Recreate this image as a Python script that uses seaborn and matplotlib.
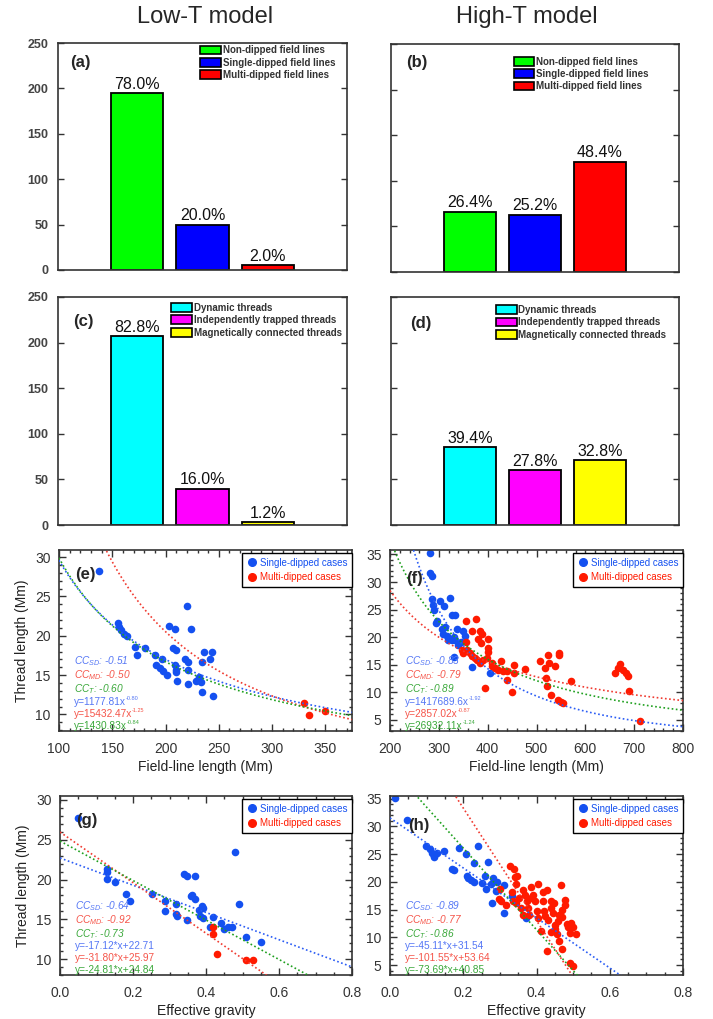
import numpy as np
import seaborn as sns
import matplotlib.pyplot as plt
from matplotlib.patches import Patch
from matplotlib.lines import Line2D
from matplotlib.ticker import MultipleLocator

sns.set_style("ticks")
plt.rcParams['font.family'] = ['Liberation Sans', 'DejaVu Sans']
plt.rcParams['mathtext.fontset'] = 'custom'
plt.rcParams['mathtext.rm'] = 'Liberation Sans'
plt.rcParams['mathtext.it'] = 'Liberation Sans:italic'
plt.rcParams['mathtext.bf'] = 'Liberation Sans:bold'

# ---- bar data (panels a-d) ----
field_labels = ["Non-dipped field lines", "Single-dipped field lines", "Multi-dipped field lines"]
thread_labels = ["Dynamic threads", "Independently trapped threads", "Magnetically connected threads"]
field_colors = ["#00ff00", "#0000ff", "#ff0000"]
thread_colors = ["#00ffff", "#ff00ff", "#ffff00"]

field_low = [195, 50, 5]
field_high = [66, 63, 121]
thread_low = [207, 40, 3]
thread_high = [85, 60, 71]
field_low_pct = ["78.0%", "20.0%", "2.0%"]
field_high_pct = ["26.4%", "25.2%", "48.4%"]
thread_low_pct = ["82.8%", "16.0%", "1.2%"]
thread_high_pct = ["39.4%", "27.8%", "32.8%"]

# ---- scatter data: low-T ----
e_sd_x = [138, 155, 156, 158, 161, 164, 171, 173, 181, 190, 191, 197, 195, 198, 201, 203.5, 209, 207,
          210, 209, 210, 210.6, 209.5, 218, 221, 220.4, 221, 221.4, 224, 229, 231, 233.6, 234.5, 236,
          234.5, 241.4, 243.3, 244.5]
e_sd_y = [28.2, 21.6, 21.1, 20.7, 20.2, 20.0, 18.6, 17.6, 18.5, 17.6, 16.3, 17.1, 15.9, 15.5, 15.0,
          21.3, 20.9, 18.4, 18.2, 16.3, 15.6, 14.2, 15.4, 17.0, 16.7, 23.8, 15.6, 13.9, 20.8, 14.3,
          14.7, 14.1, 16.7, 17.9, 12.9, 17.0, 17.9, 12.3]
e_md_x = [330, 335, 350]
e_md_y = [11.5, 9.9, 10.5]

g_sd_x = [0.05, 0.13, 0.13, 0.13, 0.151, 0.181, 0.192, 0.251, 0.289, 0.289, 0.319, 0.319, 0.321,
          0.349, 0.339, 0.349, 0.37, 0.359, 0.363, 0.369, 0.38, 0.389, 0.392, 0.383, 0.392, 0.411,
          0.42, 0.44, 0.449, 0.461, 0.47, 0.48, 0.49, 0.51, 0.55]
g_sd_y = [27.7, 21.3, 20.9, 20.1, 19.7, 18.2, 17.3, 18.2, 17.3, 16.0, 16.9, 15.7, 15.4, 14.9, 20.7,
          20.5, 20.4, 17.9, 18.0, 17.6, 16.2, 16.7, 16.4, 15.4, 15.2, 14.0, 15.3, 14.5, 13.8, 14.0,
          14.0, 23.4, 16.9, 12.8, 12.2]
g_md_x = [0.42, 0.42, 0.431, 0.51, 0.529]
g_md_y = [14.0, 13.2, 10.6, 9.9, 9.9]

# ---- scatter data: high-T ----
f_sd_x = [281, 282.5, 285, 286.6, 289, 290.7, 294, 296, 303, 311, 322.7, 327.5, 333, 307, 309, 312.5,
          316, 319, 326, 331.6, 334, 336.4, 339.8, 331.6, 345, 350, 353.4, 367, 404.5]
f_sd_y = [35.2, 31.7, 31.1, 26.9, 25.9, 25.0, 22.6, 22.9, 26.5, 25.7, 27.1, 24.1, 24.1, 21.4, 20.5,
          21.8, 20.2, 19.5, 19.5, 20.0, 19.5, 21.4, 18.5, 16.4, 19.2, 21.1, 20.2, 14.6, 13.6]
f_md_x = [355, 376, 355.5, 357, 363.6, 367, 374, 379, 384, 391, 367, 384, 387.5, 380.7, 386, 400, 401,
          401, 397.7, 408, 409, 415, 421.6, 427, 432, 438.6, 438.6, 394, 449, 454, 454, 476, 507, 524,
          525, 537.5, 545.6, 547, 517, 518.5, 520.5, 529, 544, 551, 555, 571.6, 660, 667, 671.7, 677,
          684, 687.5, 689, 711, 347, 350]
f_md_y = [22.9, 23.3, 19.2, 17.7, 17.1, 16.6, 16.2, 15.8, 15.3, 15.9, 21.1, 21.2, 20.5, 19.6, 19.0,
          19.6, 18.0, 17.4, 16.2, 15.3, 14.7, 14.4, 14.1, 15.7, 13.8, 13.8, 12.3, 10.8, 10.0, 15.0,
          13.5, 14.2, 15.6, 16.8, 15.4, 14.7, 17.1, 16.7, 14.4, 12.6, 11.1, 9.5, 8.6, 8.2, 8.0, 12.1,
          13.6, 14.4, 15.2, 14.1, 13.5, 12.9, 10.2, 4.9, 17.7, 17.1]

h_sd_x = [0.015, 0.047, 0.098, 0.109, 0.114, 0.121, 0.127, 0.148, 0.119, 0.17, 0.175, 0.188, 0.208,
          0.21, 0.212, 0.22, 0.228, 0.239, 0.229, 0.25, 0.26, 0.268, 0.275, 0.262, 0.28, 0.291, 0.29,
          0.279, 0.31, 0.31, 0.332, 0.371]
h_sd_y = [35.2, 31.1, 26.5, 25.9, 25.3, 24.7, 25.3, 25.5, 24.5, 22.4, 22.1, 26.1, 25.0, 21.1, 20.7,
          20.3, 23.5, 26.5, 20.0, 19.8, 21.1, 23.6, 19.7, 18.7, 20.7, 20.0, 18.4, 16.2, 14.4, 19.4,
          17.4, 13.5]
h_md_x = [0.299, 0.297, 0.303, 0.318, 0.328, 0.339, 0.341, 0.348, 0.343, 0.332, 0.336, 0.345, 0.351,
          0.359, 0.364, 0.368, 0.373, 0.377, 0.386, 0.391, 0.395, 0.4, 0.38, 0.364, 0.405, 0.411,
          0.418, 0.418, 0.421, 0.424, 0.432, 0.43, 0.439, 0.44, 0.445, 0.447, 0.45, 0.43, 0.44, 0.45,
          0.455, 0.459, 0.461, 0.468, 0.47, 0.47, 0.477, 0.479, 0.482, 0.486, 0.491, 0.495, 0.5,
          0.509, 0.491, 0.5, 0.47, 0.461, 0.403, 0.384]
h_md_y = [18.7, 16.9, 16.5, 15.9, 22.8, 22.4, 20.9, 21.1, 19.7, 18.2, 16.5, 16.2, 17.1, 15.3, 18.5,
          17.6, 16.5, 15.3, 19.1, 17.6, 16.5, 14.7, 14.1, 14.1, 13.5, 11.2, 18.2, 16.5, 14.7, 13.8,
          13.2, 18.5, 16.5, 15.3, 14.4, 16.2, 12.2, 7.5, 10.9, 11.5, 10.6, 12.9, 14.1, 19.4, 13.6,
          7.9, 16.8, 15.9, 12.4, 11.8, 10.8, 12.6, 11.9, 10.6, 5.3, 4.9, 15.0, 9.4, 19.7, 17.1]

# ---- fits as printed in the panels (SD, MD, total) ----
e_coef = [1177.81, 15432.47, 1430.83]
e_expo = [-0.80, -1.25, -0.84]
f_coef = [1417689.6, 2857.02, 26932.11]
f_expo = [-1.92, -0.87, -1.24]
g_slope = [-17.12, -31.80, -24.81]
g_icpt = [22.71, 25.97, 24.84]
h_slope = [-45.11, -101.55, -73.69]
h_icpt = [31.54, 53.64, 40.85]
e_cc = ["-0.51", "-0.50", "-0.60"]
f_cc = ["-0.83", "-0.79", "-0.89"]
g_cc = ["-0.64", "-0.92", "-0.73"]
h_cc = ["-0.89", "-0.77", "-0.86"]

SD_COL = "#1450f0"
MD_COL = "#ff1a00"
FIT_COLS = ["#2a5cf5", "#f03a30", "#1fa01f"]
TXT_COLS = ["#5577f5", "#f5554a", "#3aa83a"]
DARK = "#333333"

W, H = 713, 1019
fig = plt.figure(figsize=(W / 100, H / 100), dpi=100)


def rect(l, r, t, b):
    return [l / W, 1 - b / H, (r - l) / W, (b - t) / H]


def bar_panel(box, vals, pcts, labels, colors, tag, leg_xy, tag_xy, left):
    ax = fig.add_axes(rect(*box))
    sns.barplot(x=labels, y=vals, hue=labels, palette=colors, saturation=1, width=0.8,
                edgecolor="black", linewidth=1.3, errorbar=None, legend=False, ax=ax)
    for cont, p in zip(ax.containers, pcts):
        ax.bar_label(cont, labels=[p], padding=1, fontsize=11.5, color="#111111")
    ax.set_xlim(-1.22, 3.22)
    ax.set_ylim(0, 250)
    ax.yaxis.set_major_locator(MultipleLocator(50))
    ax.set_xlabel("")
    ax.set_ylabel("")
    ax.set_xticks([])
    ax.tick_params(axis="y", direction="in", left=True, right=True, length=4, width=1,
                   color=DARK, labelleft=left, pad=7, labelsize=9, labelcolor="#444444")
    for t in ax.get_yticklabels():
        t.set_fontweight("bold")
    for s in ax.spines.values():
        s.set_visible(True)
        s.set_linewidth(1.2)
        s.set_color(DARK)
    handles = [Patch(facecolor=c, edgecolor="black", linewidth=1.2) for c in colors]
    leg = ax.legend(handles, labels, loc="upper left", bbox_to_anchor=leg_xy, frameon=False,
                    prop={"weight": "bold", "size": 7}, handlelength=2.1, handleheight=1.0,
                    handletextpad=0.2, labelspacing=0.25, borderaxespad=0, borderpad=0)
    for t in leg.get_texts():
        t.set_color(DARK)
    ax.text(tag_xy[0], tag_xy[1], tag, transform=ax.transAxes, fontsize=12, fontweight="bold",
            ha="center", va="center")
    return ax


def scatter_panel(box, sdx, sdy, mdx, mdy, xlim, ylim, xmaj, xmin, ymaj, tag, tag_xy,
                  fit_lines, cc, eqs, exps, xlabel, ylabel):
    ax = fig.add_axes(rect(*box))
    sns.scatterplot(x=sdx, y=sdy, color=SD_COL, s=30, linewidth=0, legend=False, ax=ax, zorder=2)
    sns.scatterplot(x=mdx, y=mdy, color=MD_COL, s=30, linewidth=0, legend=False, ax=ax, zorder=2)
    for (gx, gy), c in zip(fit_lines, FIT_COLS):
        sns.lineplot(x=gx, y=gy, color=c, linestyle=(0, (1, 1.5)), linewidth=1.2, ax=ax,
                     zorder=3, estimator=None, sort=False)
    ax.set_xlim(*xlim)
    ax.set_ylim(*ylim)
    ax.xaxis.set_major_locator(MultipleLocator(xmaj))
    ax.xaxis.set_minor_locator(MultipleLocator(xmin))
    ax.yaxis.set_major_locator(MultipleLocator(ymaj))
    ax.yaxis.set_minor_locator(MultipleLocator(1))
    ax.tick_params(which="both", direction="in", top=True, right=True, color=DARK, width=1)
    ax.tick_params(which="major", length=5, labelsize=10, labelcolor="#333333")
    ax.tick_params(which="minor", length=2.5)
    ax.tick_params(axis="x", pad=8)
    ax.tick_params(axis="y", pad=6)
    for s in ax.spines.values():
        s.set_linewidth(1.2)
        s.set_color(DARK)
    ax.set_xlabel(xlabel, fontsize=10, color="#222222", labelpad=3)
    ax.set_ylabel(ylabel, fontsize=10, color="#222222", labelpad=4)
    handles = [Line2D([], [], marker="o", color=SD_COL, linestyle="none", markersize=5.5),
               Line2D([], [], marker="o", color=MD_COL, linestyle="none", markersize=5.5)]
    leg = ax.legend(handles, ["Single-dipped cases", "Multi-dipped cases"], loc="upper right",
                    bbox_to_anchor=(1, 0.985), borderaxespad=0, fontsize=7, fancybox=False,
                    edgecolor="black", framealpha=1, handlelength=1.0, handletextpad=0.3,
                    labelspacing=0.5, borderpad=0.5, labelcolor=[SD_COL, MD_COL])
    leg.get_frame().set_linewidth(1.0)
    ax.text(tag_xy[0], tag_xy[1], tag, transform=ax.transAxes, fontsize=12, fontweight="bold",
            ha="center", va="center", zorder=5)
    subs = ["SD", "MD", "T"]
    cc_ys = [0.385, 0.308, 0.231]
    eq_ys = [0.161, 0.095, 0.029]
    for i in range(3):
        ax.text(0.05, cc_ys[i], r"$CC_{" + subs[i] + "}$: " + cc[i], transform=ax.transAxes,
                fontsize=7.3, style="italic", color=TXT_COLS[i], va="center", zorder=5)
        base = ax.text(0.05, eq_ys[i], eqs[i], transform=ax.transAxes, fontsize=7.3,
                       color=TXT_COLS[i], va="center", zorder=5)
        if exps is not None:
            ax.annotate(exps[i], xy=(1.0, 0.55), xycoords=base, fontsize=4, ha="left",
                        va="bottom", color=TXT_COLS[i], zorder=5)
    return ax


# top rows: bar charts
bar_panel((58, 347, 43, 270), field_low, field_low_pct, field_labels, field_colors, "(a)",
          (0.492, 0.99), (0.077, 0.912), True)
bar_panel((391, 679, 44, 272), field_high, field_high_pct, field_labels, field_colors, "(b)",
          (0.427, 0.945), (0.09, 0.917), False)
bar_panel((58, 347, 297, 525), thread_low, thread_low_pct, thread_labels, thread_colors, "(c)",
          (0.392, 0.975), (0.089, 0.893), True)
bar_panel((391, 679, 297, 525), thread_high, thread_high_pct, thread_labels, thread_colors, "(d)",
          (0.365, 0.965), (0.102, 0.884), False)

fig.text(205 / W, 1 - 17 / H, "Low-T model", fontsize=17, ha="center", va="center")
fig.text(527 / W, 1 - 17 / H, "High-T model", fontsize=17, ha="center", va="center")

# fit curves from the printed coefficients
xe = np.linspace(100, 375, 200)
e_fits = [(xe, a * xe ** b) for a, b in zip(e_coef, e_expo)]
xf = np.linspace(200, 800, 200)
f_fits = [(xf, a * xf ** b) for a, b in zip(f_coef, f_expo)]
xg = np.array([0.0, 0.8])
g_fits = [(xg, m * xg + c) for m, c in zip(g_slope, g_icpt)]
h_fits = [(xg, m * xg + c) for m, c in zip(h_slope, h_icpt)]


def pow_eqs(coef):
    return ["y=%sx" % (("%.1f" % a) if a > 1e5 else ("%.2f" % a)) for a in coef]


def pow_exps(expo):
    return ["%.2f" % b for b in expo]


def lin_eqs(slope, icpt):
    return ["y=%.2f*x+%.2f" % (m, c) for m, c in zip(slope, icpt)]


scatter_panel((59, 352, 550, 731), e_sd_x, e_sd_y, e_md_x, e_md_y, (100, 375), (7.9, 30.9),
              50, 10, 5, "(e)", (0.089, 0.867), e_fits, e_cc, pow_eqs(e_coef), pow_exps(e_expo),
              "Field-line length (Mm)", "Thread length (Mm)")
scatter_panel((390, 683, 550, 731), f_sd_x, f_sd_y, f_md_x, f_md_y, (200, 800), (3.0, 35.8),
              100, 20, 5, "(f)", (0.085, 0.841), f_fits, f_cc, pow_eqs(f_coef), pow_exps(f_expo),
              "Field-line length (Mm)", "")
scatter_panel((60, 352, 796, 975), g_sd_x, g_sd_y, g_md_x, g_md_y, (0, 0.8), (8.0, 30.5),
              0.2, 0.05, 5, "(g)", (0.092, 0.861), g_fits, g_cc, lin_eqs(g_slope, g_icpt), None,
              "Effective gravity", "Thread length (Mm)")
scatter_panel((390, 683, 796, 975), h_sd_x, h_sd_y, h_md_x, h_md_y, (0, 0.8), (3.2, 35.5),
              0.2, 0.05, 5, "(h)", (0.10, 0.837), h_fits, h_cc, lin_eqs(h_slope, h_icpt), None,
              "Effective gravity", "")

fig.savefig("out.png", dpi=100)
